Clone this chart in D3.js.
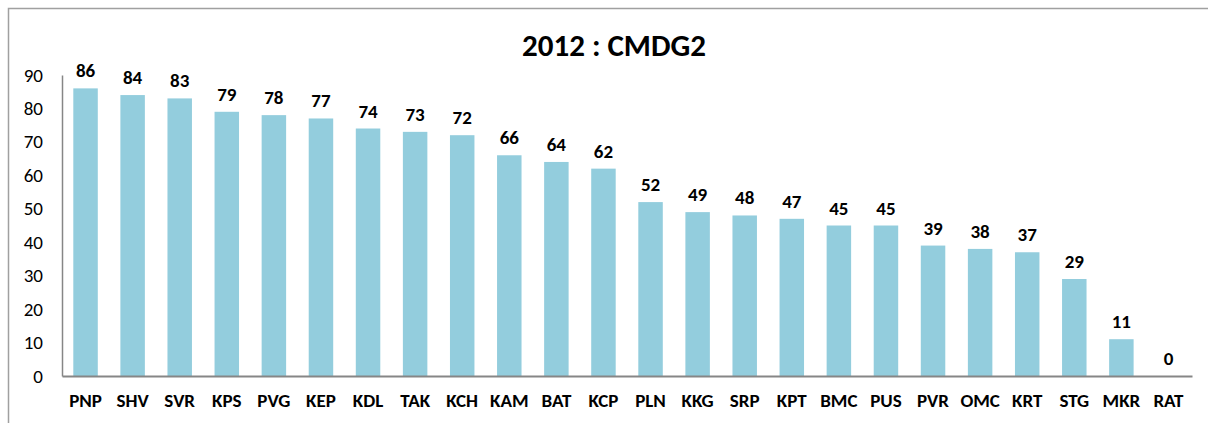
<!DOCTYPE html>
<html><head><meta charset="utf-8">
<script src="https://cdn.jsdelivr.net/npm/d3@7"></script>
<style>body{margin:0;background:#fff}svg{display:block}text{font-family:Carlito,Calibri,Lato,"Open Sans",sans-serif}</style>
</head><body><svg id="c" width="1208" height="423"></svg>
<script>
const categories = ["PNP","SHV","SVR","KPS","PVG","KEP","KDL","TAK","KCH","KAM","BAT","KCP","PLN","KKG","SRP","KPT","BMC","PUS","PVR","OMC","KRT","STG","MKR","RAT"];
const values = [86,84,83,79,78,77,74,73,72,66,64,62,52,49,48,47,45,45,39,38,37,29,11,0];
const yTicks = [0,10,20,30,40,50,60,70,80,90];
const title = "2012 : CMDG2";

const FONT = "Carlito,Calibri,Lato,'Open Sans',sans-serif";
const svg = d3.select("#c");
svg.append("path").attr("d","M8.5,423 V8.5 H1208").attr("fill","none").attr("stroke","#a0a0a0").attr("stroke-width",1.5);

const x = d3.scaleBand().domain(categories).range([62,1192]).paddingInner(0.48).paddingOuter(0.24);
const y = d3.scaleLinear().domain([0,90]).range([376,75]);

svg.append("text").attr("x",614).attr("y",56).attr("text-anchor","middle")
  .attr("font-size",31).attr("font-weight","bold").attr("fill","#000").text(title);

svg.selectAll("rect.bar").data(values).join("rect").attr("class","bar")
  .attr("x",(d,i)=>x(categories[i])).attr("width",x.bandwidth())
  .attr("y",d=>y(d)).attr("height",d=>y(0)-y(d)).attr("fill","#93cddd");

const ya = svg.append("g").attr("transform","translate(62,0)").call(d3.axisLeft(y).tickValues(yTicks).tickSize(0).tickPadding(19));
ya.select(".domain").attr("stroke","#868686").attr("stroke-width",1.5);
ya.selectAll("text").attr("font-size",19).attr("fill","#000").style("font-family",FONT);

const xa = svg.append("g").attr("transform","translate(0,376)").call(d3.axisBottom(x).tickSize(0).tickPadding(18));
xa.select(".domain").attr("stroke","#868686").attr("stroke-width",2);
xa.selectAll("text").attr("font-size",19).attr("font-weight","bold").attr("fill","#000").style("font-family",FONT);

svg.selectAll("text.val").data(values).join("text").attr("class","val")
  .attr("x",(d,i)=>x(categories[i])+x.bandwidth()/2).attr("y",d=>y(d)-11)
  .attr("text-anchor","middle").attr("font-size",19).attr("font-weight","bold").attr("fill","#000")
  .text(d=>d);
</script></body></html>
